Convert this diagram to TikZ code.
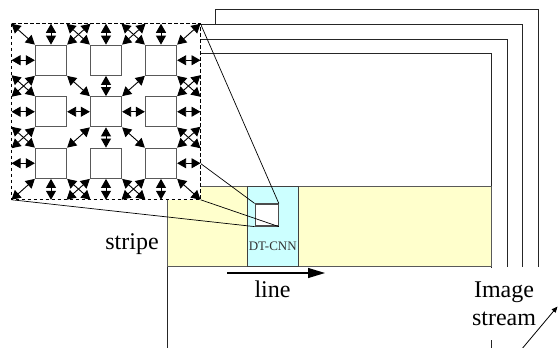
\documentclass[tikz,border=0pt]{standalone}
\usepackage{fontspec}
\setmainfont{Liberation Serif}
\usetikzlibrary{arrows.meta,calc}
\definecolor{stripefill}{HTML}{FFFFCC}
\definecolor{cnnfill}{HTML}{CCFFFF}

\begin{document}
\begin{tikzpicture}[x=1pt, y=-1pt,
  cell/.style={rectangle, draw=black!65, line width=1.3pt, fill=white, minimum width=31pt, minimum height=30pt, inner sep=0pt},
  ghost/.style={rectangle, minimum width=31pt, minimum height=30pt, inner sep=0pt, outer sep=0pt},
  dbl/.style={{Triangle[length=9pt,width=10pt]}-{Triangle[length=9pt,width=10pt]}, line width=0.9pt},
  frm/.style={draw=black!85, line width=0.9pt},
  band/.style={rectangle, draw=black!65, line width=0.9pt, fill=#1, minimum height=80pt, inner sep=0pt, anchor=north west},
  ray/.style={black, line width=0.7pt},
  zoombox/.style={draw=black, fill=white, line width=0.9pt, dash pattern=on 3.5pt off 2.5pt},
  txt/.style={font=\fontsize{24}{27.5}\selectfont, inner sep=0pt}
]
  \useasboundingbox (0,0) rectangle (558,348);
  \clip (0,0) rectangle (558,348);

  % stacked image frames, back to front
  \foreach \fl/\ft/\fr/\fb in {215/9.3/538/267, 199/24.3/522/267, 183/39/507/267, 167/53.3/491/400} {
    \fill[white] (\fl,\ft) rectangle (\fr,400);
    \draw[frm] (\fl,400) |- (\fr,\ft) -- (\fr,\fb);
  }

  \node[band=stripefill, minimum width=324pt] (stripe) at (167,186) {};
  \node[band=cnnfill, minimum width=51pt, draw=black!75] (cnn) at (247.3,186) {};
  \node[font=\fontsize{13}{15}\selectfont, text=black!80, inner sep=0pt, anchor=base] (cnnlabel) at (272.8,250) {DT-CNN};
  \node[rectangle, draw=black!70, line width=1.2pt, fill=white, minimum width=23pt, minimum height=22pt, inner sep=0pt] (cube) at (266.7,215) {};

  % neighbourhood positions round the 3x3 block
  \foreach \i in {-2,...,2}
    \foreach \j in {-2,...,2} {
      \pgfmathtruncatemacro\lvl{max(abs(\i),abs(\j))}
      \ifnum\lvl=2 \node[ghost] (c\i\j) at ({106+55*(\i)},{111.75+51.5*(\j)}) {}; \fi
    }

  \draw[ray] (c-2-2.south east) -- (cube.north west);
  \draw[ray] (c2-2.south west) -- (cube.north east);
  \draw[ray] (c-22.north east) -- (cube.south west);
  \draw[ray] (c22.north west) -- (cube.south east);

  \draw[zoombox] (c-2-2.south east) rectangle (c22.north west);

  \foreach \i in {-1,0,1}
    \foreach \j in {-1,0,1}
      \node[cell] (c\i\j) at ({106+55*(\i)},{111.75+51.5*(\j)}) {};

  \foreach \i in {-1,0,1}
    \foreach \j in {-1,0,1}
      \foreach \dx/\dy/\a/\b in {1/0/east/west, -1/0/west/east, 0/-1/north/south, 0/1/south/north,
                                 1/-1/north east/south west, -1/-1/north west/south east,
                                 1/1/south east/north west, -1/1/south west/north east} {
        \pgfmathtruncatemacro\ni{\i+\dx}
        \pgfmathtruncatemacro\nj{\j+\dy}
        \pgfmathtruncatemacro\show{(\i==0 && \j==0) || abs(\ni)>1 || abs(\nj)>1}
        \ifnum\show=1 \draw[dbl] (c\i\j.\a) -- (c\ni\nj.\b); \fi
      }

  \node[txt, anchor=base] (stripetext) at (132,249) {stripe};
  \node[txt, anchor=base] (linetext) at (272.5,297) {line};
  \coordinate (ls) at (227,273);
  \coordinate (le) at (325,273);
  \draw[-{Triangle[length=17pt,width=10pt]}, line width=1.1pt] (ls) -- (le);

  \node[txt, fill=white, align=center, minimum width=72pt, minimum height=72pt] (stream) at (504,304) {Image\\stream};
  \coordinate (ss) at (521,350);
  \coordinate (se) at (557.5,306.5);
  \draw[-{Triangle[length=6pt,width=5pt]}, line width=0.8pt] (ss) -- (se);
\end{tikzpicture}
\end{document}
